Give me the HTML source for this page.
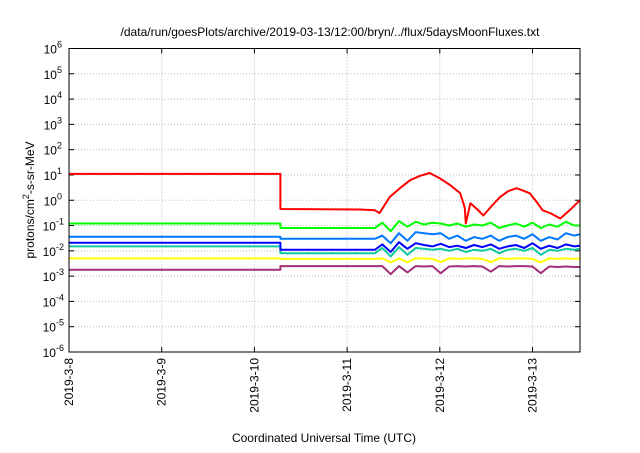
<!DOCTYPE html>
<html><head><meta charset="utf-8"><style>
body{margin:0;background:#fff;}
svg{font-family:"Liberation Sans",sans-serif;}
</style></head><body>
<svg id="chart" width="640" height="448" viewBox="0 0 640 448" xmlns="http://www.w3.org/2000/svg">
<text x="330" y="36" font-size="12" text-anchor="middle">/data/run/goesPlots/archive/2019-03-13/12:00/bryn/../flux/5daysMoonFluxes.txt</text>
<g id="grid"></g>
<g id="yticks"></g>
<g id="xticks"></g>
<g id="series"></g>
<rect x="69" y="48.5" width="511" height="303.5" fill="none" stroke="#000" stroke-width="1"/>
<text transform="translate(34,200) rotate(-90)" font-size="12" text-anchor="middle">protons/cm<tspan dy="-5" font-size="9">2</tspan><tspan dy="5">-s-sr-MeV</tspan></text>
<text x="324" y="442" font-size="12" text-anchor="middle">Coordinated Universal Time (UTC)</text>
</svg>
<script>
const dayLabels=["2019-3-8","2019-3-9","2019-3-10","2019-3-11","2019-3-12","2019-3-13"];
const yExps=[-6,-5,-4,-3,-2,-1,0,1,2,3,4,5,6];
const redT=[0,2.28,2.28,3.14,3.30,3.35,3.46,3.57,3.68,3.78,3.89,4.0,4.11,4.22,4.27,4.28,4.33,4.40,4.47,4.56,4.65,4.74,4.83,4.97,5.04,5.11,5.20,5.30,5.40,5.51];
const redV=[11,11,0.45,0.43,0.4,0.31,1.35,3,6.2,9,12,7.4,4,1.9,0.5,0.12,0.76,0.45,0.25,0.6,1.35,2.3,3,1.9,0.9,0.4,0.3,0.19,0.4,1];
const times=[0,2.28,2.28,3.30,3.38,3.47,3.56,3.65,3.74,3.83,3.92,4.01,4.10,4.19,4.28,4.37,4.46,4.55,4.64,4.73,4.82,4.91,5.00,5.09,5.18,5.27,5.36,5.45,5.51];
const greenV=[0.12,0.12,0.08,0.08,0.13,0.06,0.15,0.09,0.14,0.11,0.13,0.12,0.10,0.12,0.09,0.11,0.10,0.13,0.08,0.10,0.12,0.09,0.13,0.08,0.11,0.09,0.14,0.10,0.10];
const lightBlueV=[0.036,0.036,0.03,0.03,0.04,0.02,0.05,0.025,0.055,0.05,0.045,0.05,0.03,0.04,0.025,0.035,0.03,0.04,0.025,0.035,0.04,0.03,0.045,0.025,0.035,0.028,0.05,0.04,0.045];
const blueV=[0.021,0.021,0.011,0.011,0.018,0.009,0.022,0.012,0.02,0.017,0.015,0.019,0.014,0.016,0.013,0.017,0.014,0.018,0.012,0.015,0.017,0.013,0.02,0.012,0.016,0.013,0.018,0.015,0.016];
const tealV=[0.015,0.015,0.008,0.008,0.013,0.006,0.014,0.007,0.013,0.012,0.011,0.012,0.01,0.012,0.009,0.011,0.01,0.012,0.008,0.011,0.012,0.01,0.013,0.007,0.011,0.01,0.012,0.011,0.012];
const yellowV=[0.005,0.005,0.0048,0.0048,0.005,0.0035,0.005,0.0035,0.005,0.005,0.0048,0.0036,0.005,0.0048,0.005,0.005,0.0048,0.0036,0.005,0.0048,0.005,0.005,0.0048,0.0035,0.005,0.0048,0.005,0.0048,0.005];
const purpleV=[0.0018,0.0018,0.0025,0.0025,0.0025,0.0012,0.0025,0.0014,0.0025,0.0024,0.0025,0.0013,0.0024,0.0025,0.0024,0.0025,0.0024,0.0015,0.0025,0.0024,0.0025,0.0025,0.0024,0.0013,0.0024,0.0023,0.0024,0.0023,0.0023];

const NS="http://www.w3.org/2000/svg";
const X0=69,X1=580,DAYW=92.7,Y0=352,Y1=48.5;
const xs=t=>X0+t*DAYW;
const ys=v=>Y0-(Math.log10(v)+6)*(Y0-Y1)/12;
function mk(tag,attrs,parent){const e=document.createElementNS(NS,tag);for(const k in attrs)e.setAttribute(k,attrs[k]);parent.appendChild(e);return e;}
const grid=document.getElementById('grid'),yt=document.getElementById('yticks'),xt=document.getElementById('xticks'),sg=document.getElementById('series');
yExps.forEach(p=>{
  const y=ys(Math.pow(10,p));
  if(p>-6&&p<6){const g=mk('line',{x1:X0,x2:X1,y1:y,y2:y,stroke:'#bbb','stroke-dasharray':'1,2'},grid);
  
  }
  [[X0,X0+5],[X1-5,X1]].forEach(([a,b])=>{const tk=mk('line',{x1:a,x2:b,y1:y,y2:y,stroke:'#000'},yt);
  
  });
  const t=mk('text',{x:62,y:y+5,'font-size':12,'text-anchor':'end'},yt);
  
  
  t.innerHTML='10<tspan dy="-6" font-size="9">'+p+'</tspan>';
  if(p<0)t.setAttribute('x',64);
});
dayLabels.forEach((d,i)=>{
  const x=xs(i);
  if(i>0){const g=mk('line',{x1:x,x2:x,y1:Y1,y2:Y0,stroke:'#bbb','stroke-dasharray':'1,2'},grid);
  
  }
  [[Y0,Y0-5],[Y1,Y1+5]].forEach(([a,b])=>{const tk=mk('line',{x1:x,x2:x,y1:a,y2:b,stroke:'#000'},xt);
  
  });
  const t=mk('text',{transform:`translate(${x+4},358) rotate(-90)`,'font-size':12,'text-anchor':'end'},xt);
  
  
  t.textContent=d;
});
function line(T,V,color,name){
  const p=mk('polyline',{points:T.map((t,i)=>xs(t).toFixed(1)+','+ys(V[i]).toFixed(1)).join(' '),fill:'none',stroke:color,'stroke-width':2,'stroke-linejoin':'round'},sg);
  
  
}
line(times,purpleV,'#a0307a','series-purple');
line(times,yellowV,'#ffff00','series-yellow');
line(times,tealV,'#10c8a0','series-teal');
line(times,blueV,'#0000ff','series-blue');
line(times,lightBlueV,'#0078ff','series-light-blue');
line(times,greenV,'#00ff00','series-green');
line(redT,redV,'#ff0000','series-red');
</script>
</body></html>
